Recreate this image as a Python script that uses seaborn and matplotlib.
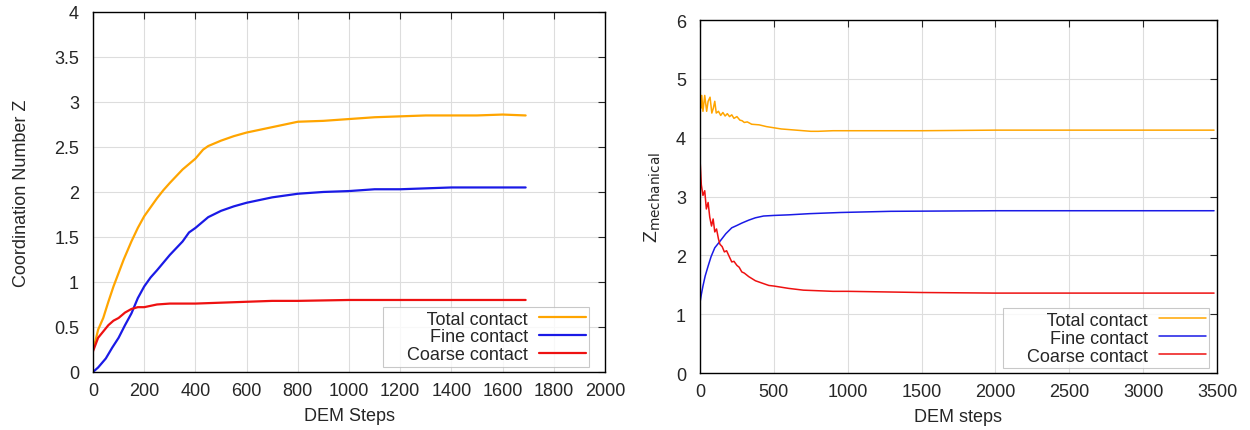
import matplotlib
matplotlib.use('Agg')
import matplotlib.pyplot as plt
import seaborn as sns

# --- data: left panel (coordination number vs DEM steps) ---
left_total_x = [0, 10, 20, 40, 60, 80, 100, 120, 150, 175, 200, 225, 250, 275, 300, 350, 400, 430,
                450, 500, 550, 600, 650, 700, 750, 800, 900, 1000, 1100, 1200, 1300, 1400, 1500, 1600, 1690]
left_total_y = [0.25, 0.35, 0.47, 0.6, 0.78, 0.95, 1.1, 1.25, 1.45, 1.6, 1.73, 1.83, 1.93, 2.02, 2.1, 2.25,
                2.37, 2.47, 2.51, 2.57, 2.62, 2.66, 2.69, 2.72, 2.75, 2.78, 2.79, 2.81, 2.83, 2.84, 2.85,
                2.85, 2.85, 2.86, 2.85]

left_fine_x = [0, 20, 50, 75, 100, 125, 150, 175, 200, 225, 250, 300, 350, 375, 400, 450, 500, 550,
               600, 650, 700, 750, 800, 900, 1000, 1100, 1200, 1300, 1400, 1690]
left_fine_y = [0.0, 0.05, 0.15, 0.27, 0.38, 0.52, 0.65, 0.82, 0.95, 1.05, 1.13, 1.3, 1.45, 1.55, 1.6,
               1.72, 1.79, 1.84, 1.88, 1.91, 1.94, 1.96, 1.98, 2.0, 2.01, 2.03, 2.03, 2.04, 2.05, 2.05]

left_coarse_x = [0, 20, 40, 60, 80, 100, 125, 150, 175, 200, 250, 300, 400, 500, 600, 700, 800, 1000,
                 1200, 1690]
left_coarse_y = [0.23, 0.38, 0.45, 0.52, 0.57, 0.6, 0.66, 0.7, 0.72, 0.72, 0.75, 0.76, 0.76, 0.77, 0.78,
                 0.79, 0.79, 0.8, 0.8, 0.8]

# --- data: right panel (mechanical coordination number) ---
right_total_x = [0, 5, 12, 20, 32, 45, 55, 68, 80, 90, 100, 110, 125, 140, 155, 170, 185, 200, 215, 230,
                 250, 270, 285, 300, 320, 350, 400, 450, 500, 550, 600, 650, 700, 750, 800, 900, 1000,
                 1500, 2000, 2500, 3000, 3480]
right_total_y = [4.85, 4.5, 4.72, 4.45, 4.72, 4.45, 4.62, 4.69, 4.42, 4.5, 4.62, 4.42, 4.45, 4.38, 4.43,
                 4.37, 4.41, 4.36, 4.39, 4.33, 4.36, 4.3, 4.29, 4.26, 4.27, 4.23, 4.22, 4.19, 4.17, 4.15,
                 4.14, 4.13, 4.12, 4.11, 4.11, 4.12, 4.12, 4.12, 4.13, 4.13, 4.13, 4.13]

right_fine_x = [0, 10, 20, 35, 55, 75, 100, 135, 175, 215, 250, 283, 330, 375, 430, 500, 600, 740, 950,
                1290, 2000, 3480]
right_fine_y = [1.2, 1.35, 1.48, 1.65, 1.82, 1.98, 2.13, 2.24, 2.37, 2.47, 2.51, 2.55, 2.6, 2.64, 2.67,
                2.68, 2.69, 2.71, 2.73, 2.75, 2.76, 2.76]

right_coarse_x = [0, 9, 20, 32, 43, 55, 66, 78, 89, 100, 112, 125, 135, 150, 165, 180, 200, 215, 230,
                  250, 265, 283, 300, 330, 375, 420, 466, 500, 600, 700, 800, 900, 1000, 1500, 2000, 3480]
right_coarse_y = [3.64, 3.2, 3.02, 3.1, 2.79, 2.9, 2.65, 2.5, 2.62, 2.4, 2.45, 2.28, 2.19, 2.15, 2.06,
                  2.08, 1.97, 1.89, 1.9, 1.83, 1.8, 1.72, 1.7, 1.64, 1.57, 1.53, 1.49, 1.48, 1.44, 1.41,
                  1.4, 1.39, 1.39, 1.37, 1.36, 1.36]

labels = ['Total contact', 'Fine contact', 'Coarse contact']
colors = ['#FFA500', '#1A1AE6', '#EE1111']

sns.set_style('white')
plt.rcParams['font.family'] = ['Liberation Sans', 'DejaVu Sans']

fig = plt.figure(figsize=(12.5, 4.31), dpi=100)
ax1 = fig.add_axes([0.0744, 0.1346, 0.4096, 0.8354])
ax2 = fig.add_axes([0.56, 0.132, 0.4136, 0.819])


def style_axis(ax):
    ax.grid(True, color='#DDDDDD', linewidth=0.8)
    ax.set_axisbelow(True)
    for s in ax.spines.values():
        s.set_color('black')
        s.set_linewidth(1.0)
    ax.tick_params(direction='in', top=True, right=True, length=5, labelsize=13)
    ax.tick_params(axis='y', pad=10)
    ax.tick_params(axis='x', pad=7)


left_sets = [(left_total_x, left_total_y), (left_fine_x, left_fine_y), (left_coarse_x, left_coarse_y)]
for (x, y), lab, c in zip(left_sets, labels, colors):
    sns.lineplot(x=x, y=y, ax=ax1, color=c, linewidth=1.6, label=lab)
ax1.set_xlim(0, 2000)
ax1.set_ylim(0, 4)
ax1.set_xticks(range(0, 2001, 200))
ax1.set_yticks([0, 0.5, 1, 1.5, 2, 2.5, 3, 3.5, 4])
ax1.set_yticklabels(['0', '0.5', '1', '1.5', '2', '2.5', '3', '3.5', '4'])
ax1.set_xlabel('DEM Steps', fontsize=13, labelpad=6)
ax1.set_ylabel('Coordination Number Z', fontsize=13, labelpad=17)
style_axis(ax1)

right_sets = [(right_total_x, right_total_y), (right_fine_x, right_fine_y), (right_coarse_x, right_coarse_y)]
for (x, y), lab, c in zip(right_sets, labels, colors):
    sns.lineplot(x=x, y=y, ax=ax2, color=c, linewidth=1.1, label=lab)
ax2.set_xlim(0, 3500)
ax2.set_ylim(0, 6)
ax2.set_xticks(range(0, 3501, 500))
ax2.set_yticks(range(0, 7))
ax2.set_xlabel('DEM steps', fontsize=13, labelpad=6)
ax2.set_ylabel(r'Z$_{\mathrm{mechanical}}$', fontsize=14, labelpad=9)
style_axis(ax2)

legend_anchor = {ax1: (0.969, 0.014), ax2: (0.985, 0.014)}
for ax in (ax1, ax2):
    handles, labs = ax.get_legend_handles_labels()
    leg = ax.legend(handles, ['    ' + l for l in labs], loc='lower right',
                    bbox_to_anchor=legend_anchor[ax], markerfirst=False, fontsize=13,
                    frameon=True, fancybox=False, handlelength=2.6, borderpad=0.2,
                    labelspacing=0.05, handletextpad=0.6, borderaxespad=0)
    leg.get_frame().set_edgecolor('#BBBBBB')
    leg.get_frame().set_linewidth(0.8)
    for t in leg.get_texts():
        t.set_ha('right')

fig.savefig('out.png', dpi=100)
